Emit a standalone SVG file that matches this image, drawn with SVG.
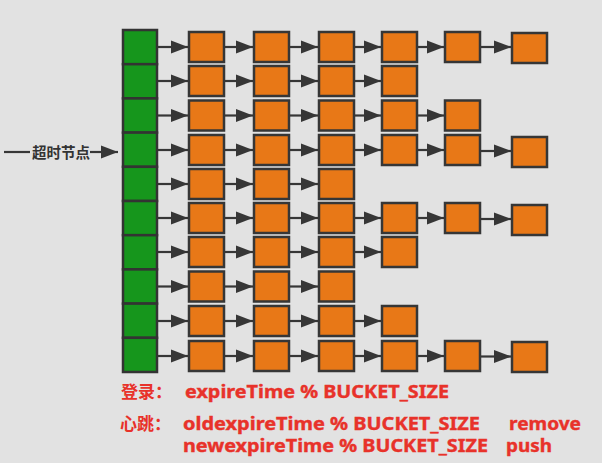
<svg xmlns="http://www.w3.org/2000/svg" width="602" height="463" viewBox="0 0 602 463">
<style>
.g{fill:#16961c;stroke:#333;stroke-width:2.5}
.o{fill:#e87817;stroke:#363636;stroke-width:2.5}
.c line{stroke:#363636;stroke-width:2.2;marker-end:url(#ah)}
.lbl{font-family:"Noto Sans CJK SC","Noto Sans",sans-serif;font-weight:bold}
.red{fill:#e8322a;stroke:#e8322a;stroke-width:0.4;font-family:"Noto Sans","Noto Sans CJK SC",sans-serif;font-weight:bold;font-size:18px}
.redc{fill:#e8322a;font-family:"Noto Sans CJK SC",sans-serif;font-weight:bold;font-size:17px}
</style>
<defs>
<marker id="ah" markerUnits="userSpaceOnUse" markerWidth="18" markerHeight="14" refX="17" refY="7" orient="auto">
<path d="M0,0.5 L17,7 L0,13.5 z" fill="#363636"/>
</marker>
</defs>
<rect width="602" height="463" fill="#e2e2e2"/>
<g id="bucket">
<rect id="b0" class="g" x="123" y="30" width="34" height="34.2"/>
<rect id="b1" class="g" x="123" y="64.2" width="34" height="34.2"/>
<rect id="b2" class="g" x="123" y="98.4" width="34" height="34.2"/>
<rect id="b3" class="g" x="123" y="132.6" width="34" height="34.2"/>
<rect id="b4" class="g" x="123" y="166.8" width="34" height="34.2"/>
<rect id="b5" class="g" x="123" y="201" width="34" height="34.2"/>
<rect id="b6" class="g" x="123" y="235.2" width="34" height="34.2"/>
<rect id="b7" class="g" x="123" y="269.4" width="34" height="34.2"/>
<rect id="b8" class="g" x="123" y="303.6" width="34" height="34.2"/>
<rect id="b9" class="g" x="123" y="337.8" width="34" height="34.2"/>
</g>
<g id="row0">
<rect id="n0_0" class="o" x="189" y="32" width="35" height="30"/>
<rect id="n0_1" class="o" x="254" y="32" width="35" height="30"/>
<rect id="n0_2" class="o" x="319" y="32" width="35" height="30"/>
<rect id="n0_3" class="o" x="382" y="32" width="35" height="30"/>
<rect id="n0_4" class="o" x="445" y="32" width="35" height="30"/>
<rect id="n0_5" class="o" x="512" y="33" width="35" height="30"/>
</g>
<g id="row1">
<rect id="n1_0" class="o" x="189" y="66" width="35" height="30"/>
<rect id="n1_1" class="o" x="254" y="66" width="35" height="30"/>
<rect id="n1_2" class="o" x="319" y="66" width="35" height="30"/>
<rect id="n1_3" class="o" x="382" y="66" width="35" height="30"/>
</g>
<g id="row2">
<rect id="n2_0" class="o" x="189" y="100.5" width="35" height="30"/>
<rect id="n2_1" class="o" x="254" y="100.5" width="35" height="30"/>
<rect id="n2_2" class="o" x="319" y="100.5" width="35" height="30"/>
<rect id="n2_3" class="o" x="382" y="100.5" width="35" height="30"/>
<rect id="n2_4" class="o" x="445" y="100.5" width="35" height="30"/>
</g>
<g id="row3">
<rect id="n3_0" class="o" x="189" y="135" width="35" height="30"/>
<rect id="n3_1" class="o" x="254" y="135" width="35" height="30"/>
<rect id="n3_2" class="o" x="319" y="135" width="35" height="30"/>
<rect id="n3_3" class="o" x="382" y="135" width="35" height="30"/>
<rect id="n3_4" class="o" x="445" y="135" width="35" height="30"/>
<rect id="n3_5" class="o" x="512" y="137" width="35" height="30"/>
</g>
<g id="row4">
<rect id="n4_0" class="o" x="189" y="169" width="35" height="30"/>
<rect id="n4_1" class="o" x="254" y="169" width="35" height="30"/>
<rect id="n4_2" class="o" x="319" y="169" width="35" height="30"/>
</g>
<g id="row5">
<rect id="n5_0" class="o" x="189" y="203" width="35" height="30"/>
<rect id="n5_1" class="o" x="254" y="203" width="35" height="30"/>
<rect id="n5_2" class="o" x="319" y="203" width="35" height="30"/>
<rect id="n5_3" class="o" x="382" y="203" width="35" height="30"/>
<rect id="n5_4" class="o" x="445" y="203" width="35" height="30"/>
<rect id="n5_5" class="o" x="512" y="205" width="35" height="30"/>
</g>
<g id="row6">
<rect id="n6_0" class="o" x="189" y="237" width="35" height="30"/>
<rect id="n6_1" class="o" x="254" y="237" width="35" height="30"/>
<rect id="n6_2" class="o" x="319" y="237" width="35" height="30"/>
<rect id="n6_3" class="o" x="382" y="237" width="35" height="30"/>
</g>
<g id="row7">
<rect id="n7_0" class="o" x="189" y="271.5" width="35" height="30"/>
<rect id="n7_1" class="o" x="254" y="271.5" width="35" height="30"/>
<rect id="n7_2" class="o" x="319" y="271.5" width="35" height="30"/>
</g>
<g id="row8">
<rect id="n8_0" class="o" x="189" y="306" width="35" height="30"/>
<rect id="n8_1" class="o" x="254" y="306" width="35" height="30"/>
<rect id="n8_2" class="o" x="319" y="306" width="35" height="30"/>
<rect id="n8_3" class="o" x="382" y="306" width="35" height="30"/>
</g>
<g id="row9">
<rect id="n9_0" class="o" x="189" y="341" width="35" height="30"/>
<rect id="n9_1" class="o" x="254" y="341" width="35" height="30"/>
<rect id="n9_2" class="o" x="319" y="341" width="35" height="30"/>
<rect id="n9_3" class="o" x="382" y="341" width="35" height="30"/>
<rect id="n9_4" class="o" x="445" y="341" width="35" height="30"/>
<rect id="n9_5" class="o" x="512" y="342" width="35" height="30"/>
</g>
<g id="connectors" class="c">
<line x1="158" y1="47" x2="188" y2="47"/><line x1="225" y1="47" x2="253" y2="47"/><line x1="290" y1="47" x2="318" y2="47"/><line x1="355" y1="47" x2="381" y2="47"/><line x1="418" y1="47" x2="444" y2="47"/><line x1="481" y1="47" x2="511" y2="47"/>
<line x1="158" y1="81" x2="188" y2="81"/><line x1="225" y1="81" x2="253" y2="81"/><line x1="290" y1="81" x2="318" y2="81"/><line x1="355" y1="81" x2="381" y2="81"/>
<line x1="158" y1="115.5" x2="188" y2="115.5"/><line x1="225" y1="115.5" x2="253" y2="115.5"/><line x1="290" y1="115.5" x2="318" y2="115.5"/><line x1="355" y1="115.5" x2="381" y2="115.5"/><line x1="418" y1="115.5" x2="444" y2="115.5"/>
<line x1="158" y1="150" x2="188" y2="150"/><line x1="225" y1="150" x2="253" y2="150"/><line x1="290" y1="150" x2="318" y2="150"/><line x1="355" y1="150" x2="381" y2="150"/><line x1="418" y1="150" x2="444" y2="150"/><line x1="481" y1="151" x2="511" y2="151"/>
<line x1="158" y1="184" x2="188" y2="184"/><line x1="225" y1="184" x2="253" y2="184"/><line x1="290" y1="184" x2="318" y2="184"/>
<line x1="158" y1="218" x2="188" y2="218"/><line x1="225" y1="218" x2="253" y2="218"/><line x1="290" y1="218" x2="318" y2="218"/><line x1="355" y1="218" x2="381" y2="218"/><line x1="418" y1="218" x2="444" y2="218"/><line x1="481" y1="219" x2="511" y2="219"/>
<line x1="158" y1="252" x2="188" y2="252"/><line x1="225" y1="252" x2="253" y2="252"/><line x1="290" y1="252" x2="318" y2="252"/><line x1="355" y1="252" x2="381" y2="252"/>
<line x1="158" y1="286.5" x2="188" y2="286.5"/><line x1="225" y1="286.5" x2="253" y2="286.5"/><line x1="290" y1="286.5" x2="318" y2="286.5"/>
<line x1="158" y1="321" x2="188" y2="321"/><line x1="225" y1="321" x2="253" y2="321"/><line x1="290" y1="321" x2="318" y2="321"/><line x1="355" y1="321" x2="381" y2="321"/>
<line x1="158" y1="356" x2="188" y2="356"/><line x1="225" y1="356" x2="253" y2="356"/><line x1="290" y1="356" x2="318" y2="356"/><line x1="355" y1="356" x2="381" y2="356"/><line x1="418" y1="356" x2="444" y2="356"/><line x1="481" y1="356.5" x2="511" y2="356.5"/>
<line x1="90" y1="152" x2="118" y2="152"/>
<line x1="4" y1="152" x2="30" y2="152" style="marker-end:none"/>
</g>
<g id="timeout-label">
<text class="lbl" x="32" y="158" font-size="14.5" fill="#333" textLength="58" lengthAdjust="spacingAndGlyphs">超时节点</text>
</g>
<g id="notes">
<text class="redc" x="121" y="398">登录：</text>
<text class="red" x="185" y="398" textLength="264" lengthAdjust="spacingAndGlyphs">expireTime % BUCKET_SIZE</text>
<text class="redc" x="120" y="430">心跳：</text>
<text class="red" x="183" y="430" textLength="297" lengthAdjust="spacingAndGlyphs">oldexpireTime % BUCKET_SIZE</text>
<text class="red" x="509" y="430" textLength="72" lengthAdjust="spacingAndGlyphs">remove</text>
<text class="red" x="183" y="452" textLength="305" lengthAdjust="spacingAndGlyphs">newexpireTime % BUCKET_SIZE</text>
<text class="red" x="506" y="452" textLength="46" lengthAdjust="spacingAndGlyphs">push</text>
</g>
</svg>
